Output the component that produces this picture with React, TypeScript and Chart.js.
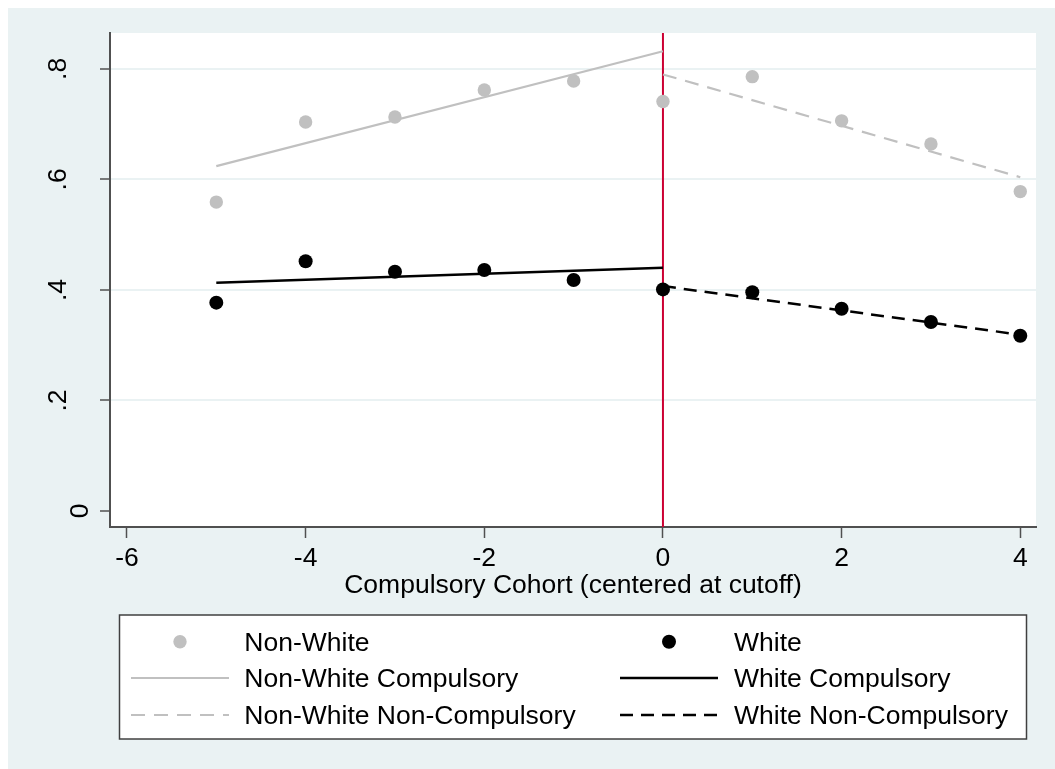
import React, { useEffect, useRef } from "react";
import { Chart, registerables } from "chart.js";

Chart.register(...registerables);

// ---- data ----
const cohorts = [-5, -4, -3, -2, -1, 0, 1, 2, 3, 4];
const nonWhite = [0.559, 0.704, 0.713, 0.762, 0.778, 0.741, 0.786, 0.706, 0.664, 0.578];
const white = [0.377, 0.452, 0.433, 0.436, 0.418, 0.401, 0.396, 0.366, 0.342, 0.317];

const compulsoryX = [-5, 0];
const nonCompulsoryX = [0, 4];
const nwCompulsory = [0.624, 0.832];
const nwNonCompulsory = [0.79, 0.604];
const wCompulsory = [0.413, 0.44];
const wNonCompulsory = [0.407, 0.319];

const cutoff = 0;

const xTicks = [-6, -4, -2, 0, 2, 4];
const yTicks = [0, 0.2, 0.4, 0.6, 0.8];
const yTickLabels = ["0", ".2", ".4", ".6", ".8"];

const X_MIN = -6.19;
const X_MAX = 4.176;
const Y_MIN = -0.029;
const Y_MAX = 0.865;

const xTitle = "Compulsory Cohort (centered at cutoff)";

// ---- styles ----
const BG = "#EAF2F3";
const GRAY = "#C0C0C0";
const BLACK = "#000000";
const RED = "#CC0033";
const AXIS = "#505050";
const FONT = "'Liberation Sans', Arial, sans-serif";
const FS = 26.5;

const pairs = (xs: number[], ys: number[]) => xs.map((x, i) => ({ x, y: ys[i] }));

type LegendItem = { label: string; kind: "point" | "line"; color: string; width?: number; dash?: number[]; r?: number };

const legendLeft: LegendItem[] = [
  { label: "Non-White", kind: "point", color: GRAY, r: 6.7 },
  { label: "Non-White Compulsory", kind: "line", color: GRAY, width: 2.2 },
  { label: "Non-White Non-Compulsory", kind: "line", color: GRAY, width: 2.2, dash: [14, 9] },
];
const legendRight: LegendItem[] = [
  { label: "White", kind: "point", color: BLACK, r: 7 },
  { label: "White Compulsory", kind: "line", color: BLACK, width: 2.5 },
  { label: "White Non-Compulsory", kind: "line", color: BLACK, width: 2.5, dash: [13, 8] },
];

const stataPlugin = {
  id: "stataDecor",
  beforeDraw(chart: any) {
    const { ctx, width, height, chartArea } = chart;
    ctx.save();
    ctx.fillStyle = BG;
    ctx.fillRect(0, 0, width, height);
    ctx.fillStyle = "#FFFFFF";
    ctx.fillRect(chartArea.left, chartArea.top, chartArea.right - chartArea.left, chartArea.bottom - chartArea.top);
    ctx.restore();
  },
  afterDraw(chart: any) {
    const { ctx, chartArea } = chart;
    const yScale = chart.scales.y;
    ctx.save();
    ctx.fillStyle = "#000";
    ctx.font = `${FS}px ${FONT}`;
    // rotated y tick labels
    yTicks.forEach((v, i) => {
      const py = yScale.getPixelForValue(v);
      const lbl = yTickLabels[i];
      const bx = lbl === "0" ? 80 : 58;
      ctx.save();
      ctx.translate(bx, py);
      ctx.rotate(-Math.PI / 2);
      ctx.textAlign = "center";
      ctx.textBaseline = "alphabetic";
      ctx.fillText(lbl, 0, 0);
      ctx.restore();
    });
    // x axis title
    ctx.textAlign = "center";
    ctx.textBaseline = "alphabetic";
    ctx.fillText(xTitle, (chartArea.left + chartArea.right) / 2, 585);

    // legend box
    const bx0 = 111.5, by0 = 607, bx1 = 1018.5, by1 = 731;
    ctx.fillStyle = "#FFFFFF";
    ctx.fillRect(bx0, by0, bx1 - bx0, by1 - by0);
    ctx.strokeStyle = "#404040";
    ctx.lineWidth = 1.5;
    ctx.strokeRect(bx0, by0, bx1 - bx0, by1 - by0);

    const rows = [633.7, 670, 707];
    const drawCol = (items: LegendItem[], sx0: number, sx1: number, tx: number) => {
      items.forEach((it, i) => {
        const cy = rows[i];
        if (it.kind === "point") {
          ctx.beginPath();
          ctx.fillStyle = it.color;
          ctx.arc((sx0 + sx1) / 2, cy, it.r || 7, 0, Math.PI * 2);
          ctx.fill();
        } else {
          ctx.beginPath();
          ctx.strokeStyle = it.color;
          ctx.lineWidth = it.width || 2;
          ctx.setLineDash(it.dash || []);
          ctx.moveTo(sx0, cy);
          ctx.lineTo(sx1, cy);
          ctx.stroke();
          ctx.setLineDash([]);
        }
        ctx.fillStyle = "#000";
        ctx.textAlign = "left";
        ctx.textBaseline = "alphabetic";
        ctx.fillText(it.label, tx, cy + 9);
      });
    };
    drawCol(legendLeft, 123, 221, 236.3);
    drawCol(legendRight, 612, 710, 726);
    ctx.restore();
  },
};

export default function App() {
  const ref = useRef<HTMLCanvasElement | null>(null);
  useEffect(() => {
    if (!ref.current) return;
    const chart = new Chart(ref.current, {
      type: "scatter",
      data: {
        datasets: [
          {
            label: "Cutoff",
            data: [{ x: cutoff, y: Y_MIN }, { x: cutoff, y: Y_MAX }],
            showLine: true,
            borderColor: RED,
            borderWidth: 2,
            pointRadius: 0,
            order: 10,
          },
          {
            label: "Non-White Compulsory",
            data: pairs(compulsoryX, nwCompulsory),
            showLine: true,
            borderColor: GRAY,
            borderWidth: 2.2,
            pointRadius: 0,
            order: 5,
          },
          {
            label: "Non-White Non-Compulsory",
            data: pairs(nonCompulsoryX, nwNonCompulsory),
            showLine: true,
            borderColor: GRAY,
            borderWidth: 2.2,
            borderDash: [14, 9],
            pointRadius: 0,
            order: 5,
          },
          {
            label: "White Compulsory",
            data: pairs(compulsoryX, wCompulsory),
            showLine: true,
            borderColor: BLACK,
            borderWidth: 2.5,
            pointRadius: 0,
            order: 4,
          },
          {
            label: "White Non-Compulsory",
            data: pairs(nonCompulsoryX, wNonCompulsory),
            showLine: true,
            borderColor: BLACK,
            borderWidth: 2.5,
            borderDash: [13, 8],
            pointRadius: 0,
            order: 4,
          },
          {
            label: "Non-White",
            data: pairs(cohorts, nonWhite),
            backgroundColor: GRAY,
            borderColor: GRAY,
            borderWidth: 0,
            pointRadius: 6.7,
            order: 2,
          },
          {
            label: "White",
            data: pairs(cohorts, white),
            backgroundColor: BLACK,
            borderColor: BLACK,
            borderWidth: 0,
            pointRadius: 7,
            order: 1,
          },
        ],
      },
      options: {
        animation: false,
        responsive: false,
        maintainAspectRatio: false,
        layout: { padding: { top: 25, right: 19, left: 0, bottom: 0 } },
        plugins: { legend: { display: false }, tooltip: { enabled: false }, title: { display: false } },
        scales: {
          x: {
            type: "linear",
            min: X_MIN,
            max: X_MAX,
            afterBuildTicks: (s: any) => {
              s.ticks = xTicks.map((v) => ({ value: v }));
            },
            afterFit: (s: any) => {
              s.height = 242;
            },
            grid: { drawOnChartArea: false, tickLength: 11, tickColor: AXIS, tickWidth: 1.5 },
            border: { color: AXIS, width: 2 },
            ticks: {
              color: "#000",
              font: { family: FONT, size: FS },
              padding: 5,
              maxRotation: 0,
              minRotation: 0,
              callback: (v: any) => String(v),
            },
          },
          y: {
            type: "linear",
            min: Y_MIN,
            max: Y_MAX,
            afterBuildTicks: (s: any) => {
              s.ticks = yTicks.map((v) => ({ value: v }));
            },
            afterFit: (s: any) => {
              s.width = 102;
            },
            grid: {
              color: (c: any) => (c.tick && c.tick.value === 0 ? "rgba(0,0,0,0)" : BG),
              lineWidth: 2,
              tickLength: 10,
              tickColor: AXIS,
              tickWidth: 1.5,
            },
            border: { color: AXIS, width: 2 },
            ticks: { display: false },
          },
        },
      },
      plugins: [stataPlugin],
    } as any);
    return () => {
      chart.destroy();
    };
  }, []);
  return (
    <div style={{ position: "absolute", left: 8, top: 8, width: 1047, height: 761, overflow: "hidden" }}>
      <canvas ref={ref} width={1047} height={761} style={{ display: "block", width: 1047, height: 761 }} />
    </div>
  );
}
